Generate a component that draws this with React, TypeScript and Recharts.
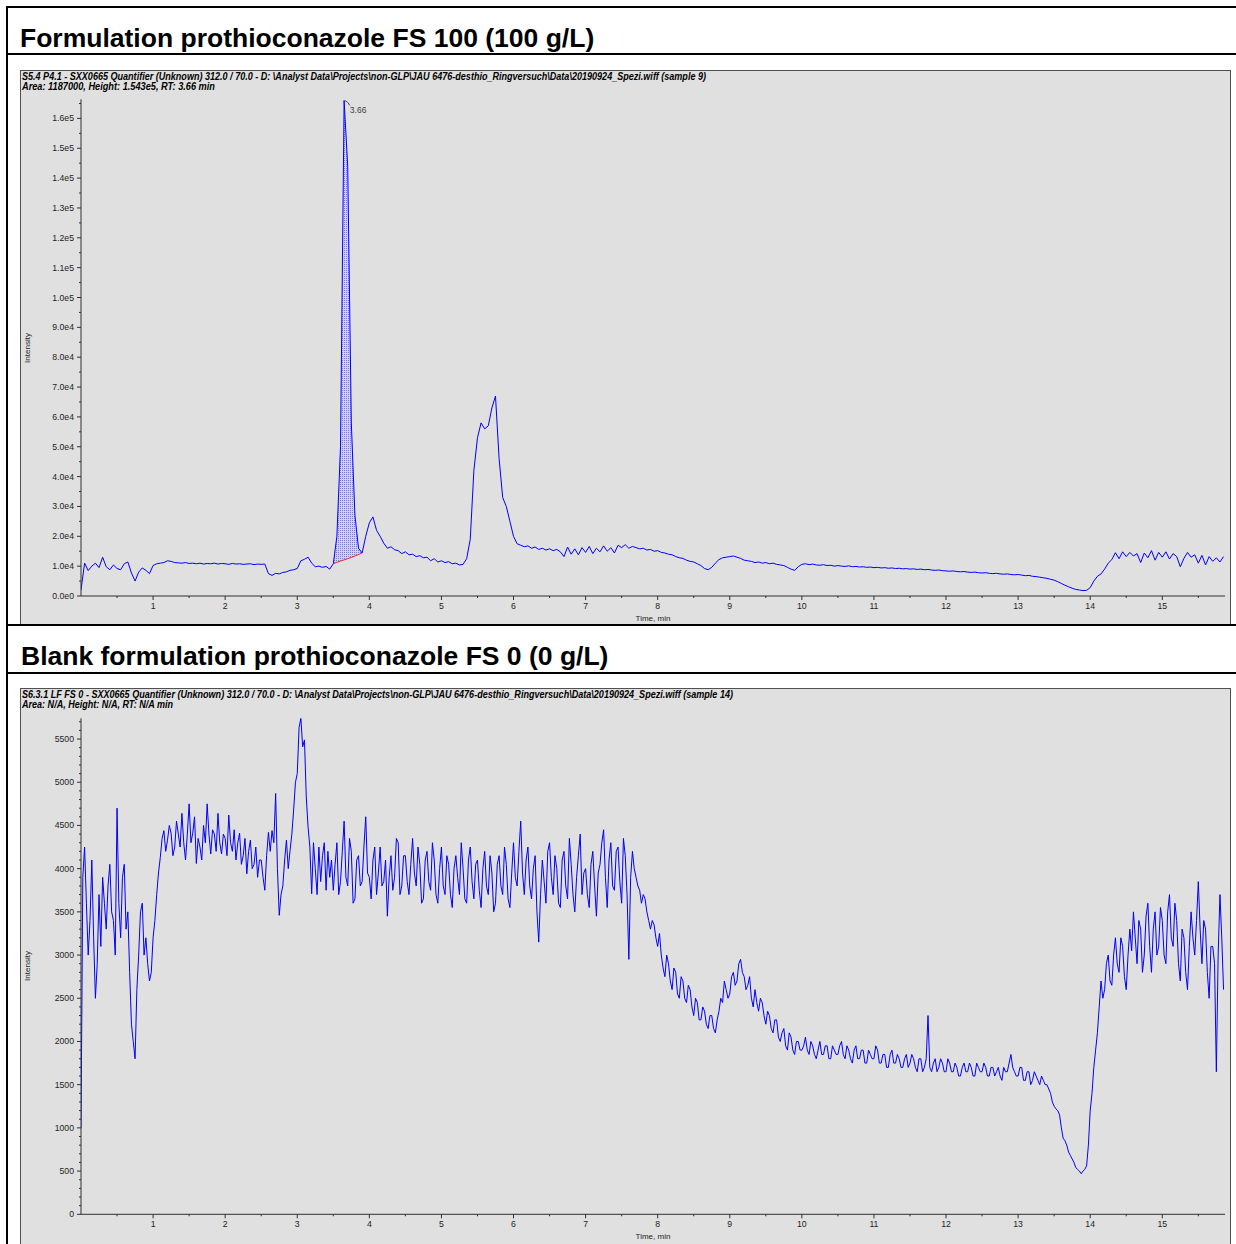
import React from "react";
import { ComposedChart, LineChart, Line, Area, XAxis, YAxis, ReferenceDot } from "recharts";

// sampling interval of each trace (min); value i sits at i * step
const FS100_STEP = 0.05;
const FS0_STEP = 0.025;

// FS 100 (100 g/L) trace, intensity in cps, 0.00 .. 15.85 min
const fs100Intensity = [
  2000, 11000, 8500, 10000, 11000, 9500, 13000, 9800, 8800, 10400,
  9200, 8800, 10800, 11400, 7700, 5000, 8000, 9400, 8600, 7500,
  10200, 10800, 11000, 11200, 11800, 11600, 11200, 11100, 11000, 11200,
  10900, 11000, 10800, 11000, 10700, 10900, 10800, 11000, 10700, 10900,
  10800, 10600, 10900, 10700, 10800, 10600, 10700, 10800, 10500, 10700,
  10600, 10700, 7500, 6900, 7600, 7400, 7900, 8100, 8600, 8800,
  9200, 11800, 12300, 13000, 11000, 9800, 10000, 9600, 9900, 9000,
  10800, 20000, 50000, 166000, 144000, 58000, 27000, 16000, 14400, 20000,
  24500, 26500, 22000, 20000, 17700, 16000, 16500, 15500, 15200, 14200,
  14800, 13800, 14000, 13200, 13500, 12800, 13000, 11800, 12500, 11400,
  11800, 11200, 11500, 10800, 11000, 10400, 10600, 12500, 19000, 42000,
  53000, 58000, 56000, 57000, 63000, 67000, 46000, 33000, 30000, 25000,
  20000, 17500, 17000, 16500, 16800, 16000, 16400, 15600, 16000, 15400,
  15800, 15200, 15600, 14800, 13200, 16400, 14000, 15800, 13800, 16200,
  14600, 16600, 14200, 16000, 14800, 16800, 15000, 16200, 14400, 17000,
  16200, 17200, 16000, 16600, 16200, 15800, 16000, 15400, 15600, 15000,
  15200, 14600, 14400, 14000, 13800, 13200, 12800, 12600, 12000, 11600,
  11400, 10800, 10200, 9200, 8800, 9600, 11000, 12200, 12800, 13000,
  13200, 13400, 13000, 12600, 12000, 11800, 11600, 11200, 11400, 11000,
  11200, 10800, 11000, 10600, 10400, 10200, 9600, 9000, 8600, 9800,
  10600, 10800, 10500, 10700, 10400, 10300, 10500, 10200, 10300, 10000,
  10200, 10000, 9900, 10100, 9800, 9900, 9700, 9800, 9600, 9700,
  9500, 9600, 9400, 9500, 9300, 9400, 9200, 9300, 9100, 9200,
  9000, 9100, 8900, 9000, 8800, 8900, 8700, 8600, 8700, 8500,
  8400, 8300, 8400, 8200, 8100, 8200, 8000, 7900, 8000, 7800,
  7700, 7800, 7600, 7500, 7600, 7400, 7300, 7400, 7200, 7100,
  7200, 7000, 6800, 6900, 6600, 6500, 6300, 6100, 5900, 5600,
  5300, 4800, 4200, 3600, 3100, 2600, 2200, 2000, 1800, 1900,
  2800, 5000, 6600, 7400, 9000, 11000, 12200, 14500, 12500, 14800,
  13200, 14600, 13400, 14200, 11200, 14400, 12800, 15200, 12000, 14600,
  13000, 14800, 12400, 14200, 13200, 9800, 12600, 14600, 13000, 13800,
  11000, 13600, 10400, 13200, 11600, 12800, 11400, 13200,
];

// integrated peak: red baseline under the 3.66 min peak (3.50 .. 3.90 min)
const PEAK_FROM = 3.5;
const peakBaseline = [10800, 11300, 11700, 12100, 12500, 12900, 13400, 13900, 14400];
const PEAK_RT = 3.66;
const PEAK_TOP = 166000;

// blank FS 0 (0 g/L) trace, 0.000 .. 15.850 min
const fs0Intensity = [
  1000, 3900, 4250, 3600, 3000, 3400, 4100, 3200, 2500, 2900, 3700, 3100, 3900, 3600, 3300, 3800, 4050, 3500, 3400, 3000,
  4700, 3600, 3200, 3900, 4050, 3300, 3500, 2800, 2200, 2000, 1800, 2600, 3000, 3500, 3600, 3000, 3200, 2900, 2700, 2800,
  3200, 3400, 3700, 3950, 4130, 4350, 4440, 4200, 4330, 4500, 4410, 4150, 4250, 4550, 4400, 4250, 4640, 4300, 4100, 4400,
  4750, 4300, 4410, 4600, 4060, 4350, 4250, 4100, 4500, 4300, 4750, 4400, 4170, 4450, 4400, 4200, 4640, 4300, 4170, 4400,
  4350, 4150, 4620, 4300, 4200, 4450, 4100, 4300, 4410, 4050, 4150, 4350, 3940, 4200, 4330, 4000, 4050, 4250, 3900, 4100,
  4100, 3900, 3750, 4150, 4420, 4200, 4440, 4300, 4870, 4000, 3460, 3700, 3800, 4100, 4330, 4000, 4210, 4400, 4680, 5000,
  5100, 5630, 5740, 5410, 5490, 4830, 4480, 4250, 3710, 4300, 4000, 3700, 4250, 3850, 4150, 4300, 3750, 4200, 3900, 4100,
  3750, 4050, 4300, 3700, 3850, 4200, 4550, 3900, 3800, 4350, 4200, 3600, 3650, 4100, 4150, 3800, 3850, 4250, 4600, 3950,
  3900, 3650, 4100, 4250, 3700, 3950, 4250, 3800, 3850, 4100, 3450, 3900, 4150, 3750, 3900, 4350, 4300, 3700, 3800, 4150,
  4150, 3850, 3700, 4050, 4350, 3950, 3800, 4250, 4050, 3600, 3650, 4100, 4200, 3850, 3750, 4300, 4100, 3700, 3600, 4000,
  4250, 3800, 3700, 4150, 4050, 3700, 3550, 4000, 4150, 3900, 3700, 4300, 4000, 3650, 3600, 4100, 4250, 3850, 3650, 4050,
  4100, 3750, 3550, 4000, 4200, 3800, 3700, 4150, 3950, 3500, 3600, 4050, 4150, 3800, 3700, 4250, 4050, 3650, 3550, 3950,
  4300, 3900, 3800, 4200, 4550, 3950, 3700, 4100, 4250, 3800, 3650, 4000, 4150, 3500, 3150, 3700, 4100, 3850, 3600, 4200,
  4300, 3900, 3700, 4150, 4000, 3600, 3550, 4100, 4200, 3800, 3650, 4350, 4050, 3700, 3500, 3900, 4150, 4400, 3700, 3950,
  4000, 3700, 3550, 4050, 4200, 3800, 3450, 3950, 4050, 4300, 4450, 3900, 3550, 4100, 4300, 3800, 3750, 4200, 4250, 3850,
  3600, 4350, 4150, 3700, 2950, 3900, 4200, 4000, 3900, 3800, 3750, 3600, 3700, 3650, 3500, 3400, 3300, 3400, 3350, 3200,
  3100, 3250, 3000, 2850, 2750, 3000, 2900, 2700, 2600, 2850, 2800, 2550, 2500, 2750, 2700, 2500, 2450, 2650, 2600, 2400,
  2300, 2500, 2450, 2250, 2250, 2400, 2350, 2200, 2150, 2300, 2300, 2150, 2100, 2250, 2350, 2500, 2450, 2700, 2600, 2500,
  2550, 2750, 2800, 2650, 2700, 2900, 2950, 2800, 2750, 2600, 2650, 2750, 2500, 2400, 2600, 2450, 2350, 2500, 2450, 2300,
  2200, 2350, 2300, 2150, 2100, 2250, 2250, 2050, 2000, 2100, 2150, 1950, 1900, 2100, 2050, 1900, 1850, 2000, 2000, 1900,
  1900, 1950, 2050, 1900, 1850, 2000, 1950, 1850, 1800, 1900, 2000, 1850, 1850, 1950, 1950, 1800, 1800, 1950, 1900, 1850,
  1850, 1950, 2000, 1850, 1800, 1950, 1900, 1800, 1750, 1900, 1950, 1800, 1800, 1900, 1900, 1750, 1750, 1900, 1850, 1800,
  1800, 1950, 1900, 1750, 1750, 1850, 1850, 1700, 1700, 1850, 1900, 1750, 1750, 1850, 1800, 1700, 1700, 1800, 1850, 1700,
  1750, 1850, 1800, 1700, 1650, 1800, 1800, 1650, 1700, 1800, 2300, 1700, 1650, 1750, 1800, 1650, 1700, 1800, 1750, 1650,
  1650, 1800, 1750, 1650, 1650, 1750, 1700, 1600, 1600, 1700, 1750, 1650, 1650, 1750, 1700, 1600, 1600, 1750, 1700, 1650,
  1650, 1750, 1700, 1600, 1600, 1700, 1700, 1600, 1650, 1700, 1600, 1550, 1700, 1650, 1650, 1750, 1850, 1700, 1650, 1600,
  1600, 1700, 1700, 1550, 1550, 1650, 1650, 1500, 1550, 1650, 1600, 1550, 1500, 1600, 1550, 1500, 1500, 1450, 1400, 1300,
  1250, 1220, 1200, 1150, 1000, 880, 850, 800, 720, 680, 640, 600, 540, 520, 500, 470, 500, 520, 560, 800,
  1200, 1400, 1700, 1900, 2100, 2400, 2700, 2500, 2600, 2900, 3000, 2700, 2650, 3000, 3200, 2900, 2800, 3200, 3100, 2750,
  2600, 3000, 3300, 3050, 3500, 3200, 2900, 3400, 3300, 2800, 3000, 3450, 3600, 3100, 2800, 3300, 3500, 3000, 3100, 3550,
  3400, 3000, 2900, 3500, 3700, 3200, 3100, 3600, 3400, 2900, 2700, 3300, 3200, 2800, 2600, 3100, 3500, 3200, 3000, 3400,
  3850, 3300, 2900, 3400, 3300, 2800, 2500, 3100, 3100, 2900, 1650, 3000, 3700, 3200, 2600,
];

// axes
const X_MAX = 15.87;
const xMajorTicks = [1, 2, 3, 4, 5, 6, 7, 8, 9, 10, 11, 12, 13, 14, 15];
const fs100YMajor = [0, 10000, 20000, 30000, 40000, 50000, 60000, 70000, 80000, 90000, 100000, 110000, 120000, 130000, 140000, 150000, 160000];
const FS100_Y_MAX = 166400;
const fs0YMajor = [0, 500, 1000, 1500, 2000, 2500, 3000, 3500, 4000, 4500, 5000, 5500];
const FS0_Y_MAX = 5740;

const FONT = '"Liberation Sans", Arial, Helvetica, sans-serif';
const AXIS = "#303030";
const TXT = "#1e1e1e";
const TRACE = "#0000ff";
const BG = "#e0e0e0";

function ticksBetween(start: number, stop: number, step: number) {
  const out: number[] = [];
  for (let v = start; v <= stop + 1e-9; v += step) out.push(Math.round(v * 1000) / 1000);
  return out;
}

const xTicks = ticksBetween(0.5, 15.5, 0.5);
const fs100YTicks = ticksBetween(0, 165000, 5000);
const fs0YTicks = ticksBetween(0, 5700, 100);

const fs100Data = fs100Intensity.map((v, i) => {
  const t = Math.round(i * FS100_STEP * 1000) / 1000;
  const k = Math.round((t - PEAK_FROM) / FS100_STEP);
  const base = k >= 0 && k < peakBaseline.length ? peakBaseline[k] : undefined;
  return { t, v, base, range: base !== undefined ? [base, v] : undefined };
});
const fs0Data = fs0Intensity.map((v, i) => ({ t: Math.round(i * FS0_STEP * 1000) / 1000, v }));

const XTick = (props: any) => {
  const { x, y, payload } = props;
  const major = xMajorTicks.includes(payload.value);
  return (
    <g>
      <line x1={x} x2={x} y1={y} y2={y + (major ? 4 : 2)} stroke={AXIS} />
      {major && (
        <text x={x} y={y + 13} textAnchor="middle" fontSize={8.7} fill={TXT} fontFamily={FONT}>
          {payload.value}
        </text>
      )}
    </g>
  );
};

const makeYTick = (majors: number[], fmt: (v: number) => string) => (props: any) => {
  const { x, y, payload } = props;
  const major = majors.includes(payload.value);
  return (
    <g>
      <line x1={x - (major ? 4 : 2)} x2={x} y1={y} y2={y} stroke={AXIS} />
      {major && (
        <text x={x - 7} y={y + 3} textAnchor="end" fontSize={8.7} fill={TXT} fontFamily={FONT}>
          {fmt(payload.value)}
        </text>
      )}
    </g>
  );
};

const Fs100YTick = makeYTick(fs100YMajor, (v) => v.toExponential(1).replace("+", ""));
const Fs0YTick = makeYTick(fs0YMajor, (v) => String(v));

const RtLabel = (props: any) => {
  const { cx, cy } = props;
  return (
    <g>
      <polyline points={`${cx},${cy} ${cx + 3},${cy + 2} ${cx + 5},${cy + 5}`} fill="none" stroke="#505050" />
      <text x={cx + 5} y={cy + 13} fontSize={8.5} fill="#404040" fontFamily={FONT}>
        {PEAK_RT.toFixed(2)}
      </text>
    </g>
  );
};

function Fs100Chart() {
  return (
    <ComposedChart width={1210} height={554} data={fs100Data} margin={{ top: 29.3, right: 5, bottom: 0, left: 0 }}>
      <defs>
        <pattern id="peakDots" width="2" height="2" patternUnits="userSpaceOnUse">
          <rect width="2" height="2" fill="#c8c8e8" />
          <rect width="1" height="1" fill="#3030ff" />
        </pattern>
      </defs>
      <XAxis
        type="number"
        dataKey="t"
        domain={[0, X_MAX]}
        ticks={xTicks}
        interval={0}
        allowDataOverflow
        height={28}
        stroke={AXIS}
        tickLine={false}
        tickSize={0}
        tickMargin={0}
        tick={<XTick />}
      />
      <YAxis
        type="number"
        domain={[0, FS100_Y_MAX]}
        ticks={fs100YTicks}
        interval={0}
        allowDataOverflow
        width={61}
        stroke={AXIS}
        tickLine={false}
        tickSize={0}
        tickMargin={0}
        tick={<Fs100YTick />}
      />
      <Area dataKey="range" type="linear" fill="url(#peakDots)" stroke="none" isAnimationActive={false} />
      <Line dataKey="v" type="linear" stroke={TRACE} strokeWidth={1} dot={false} isAnimationActive={false} />
      <Line dataKey="base" type="linear" stroke="#ff2020" strokeWidth={1} dot={false} isAnimationActive={false} />
      <ReferenceDot x={PEAK_RT} y={PEAK_TOP} r={0} shape={(p: any) => <RtLabel {...p} />} />
    </ComposedChart>
  );
}

function Fs0Chart() {
  return (
    <LineChart width={1210} height={556} data={fs0Data} margin={{ top: 30.3, right: 5, bottom: 0, left: 0 }}>
      <XAxis
        type="number"
        dataKey="t"
        domain={[0, X_MAX]}
        ticks={xTicks}
        interval={0}
        allowDataOverflow
        height={29.7}
        stroke={AXIS}
        tickLine={false}
        tickSize={0}
        tickMargin={0}
        tick={<XTick />}
      />
      <YAxis
        type="number"
        domain={[0, FS0_Y_MAX]}
        ticks={fs0YTicks}
        interval={0}
        allowDataOverflow
        width={61}
        stroke={AXIS}
        tickLine={false}
        tickSize={0}
        tickMargin={0}
        tick={<Fs0YTick />}
      />
      <Line dataKey="v" type="linear" stroke={TRACE} strokeWidth={1} dot={false} isAnimationActive={false} />
    </LineChart>
  );
}

const headerStyle = { fontFamily: FONT, fontSize: 10, fontWeight: 700, fontStyle: "italic" } as const;

export default function App() {
  return (
    <div style={{ position: "absolute", left: 0, top: 0, width: 1236, height: 1244, overflow: "hidden", background: "#fff" }}>
      <div style={{ position: "absolute", left: 20, top: 70, width: 1211, height: 555, background: BG, border: "1px solid #505050", boxSizing: "border-box" }} />
      <div style={{ position: "absolute", left: 20, top: 688, width: 1211, height: 580, background: BG, border: "1px solid #505050", boxSizing: "border-box" }} />
      <div style={{ position: "absolute", left: 20, top: 70 }}>
        <Fs100Chart />
      </div>
      <div style={{ position: "absolute", left: 20, top: 688 }}>
        <Fs0Chart />
      </div>
      <svg width={1236} height={1244} style={{ position: "absolute", left: 0, top: 0, pointerEvents: "none" }}>
        {/* table frame */}
        <rect x={6} y={6} width={1230} height={2} fill="#000" />
        <rect x={6} y={6} width={2} height={1238} fill="#000" />
        <rect x={6} y={53} width={1230} height={2} fill="#000" />
        <rect x={6} y={624} width={1230} height={2} fill="#000" />
        <rect x={6} y={672} width={1230} height={2} fill="#000" />

        <text x={20} y={47} fontFamily={FONT} fontWeight={700} fontSize={26.5} fill="#000">
          Formulation prothioconazole FS 100 (100 g/L)
        </text>
        <text x={21} y={665} fontFamily={FONT} fontWeight={700} fontSize={26.5} fill="#000">
          Blank formulation prothioconazole FS 0 (0 g/L)
        </text>

        <text x={22} y={80} style={headerStyle} textLength={684} lengthAdjust="spacingAndGlyphs">
          S5.4 P4.1 - SXX0665 Quantifier (Unknown) 312.0 / 70.0 - D: \Analyst Data\Projects\non-GLP\JAU 6476-desthio_Ringversuch\Data\20190924_Spezi.wiff (sample 9)
        </text>
        <text x={22} y={90} style={headerStyle} textLength={193} lengthAdjust="spacingAndGlyphs">
          Area: 1187000, Height: 1.543e5, RT: 3.66 min
        </text>
        <text x={22} y={698} style={headerStyle} textLength={711} lengthAdjust="spacingAndGlyphs">
          S6.3.1 LF FS 0 - SXX0665 Quantifier (Unknown) 312.0 / 70.0 - D: \Analyst Data\Projects\non-GLP\JAU 6476-desthio_Ringversuch\Data\20190924_Spezi.wiff (sample 14)
        </text>
        <text x={22} y={708} style={headerStyle} textLength={151} lengthAdjust="spacingAndGlyphs">
          Area: N/A, Height: N/A, RT: N/A min
        </text>

        <text x={653} y={621} textAnchor="middle" fontFamily={FONT} fontSize={8} fill={TXT}>Time, min</text>
        <text x={653} y={1239} textAnchor="middle" fontFamily={FONT} fontSize={8} fill={TXT}>Time, min</text>
        <text transform="translate(30,348) rotate(-90)" textAnchor="middle" fontFamily={FONT} fontSize={8} fill={TXT}>Intensity</text>
        <text transform="translate(30,966) rotate(-90)" textAnchor="middle" fontFamily={FONT} fontSize={8} fill={TXT}>Intensity</text>
      </svg>
    </div>
  );
}
